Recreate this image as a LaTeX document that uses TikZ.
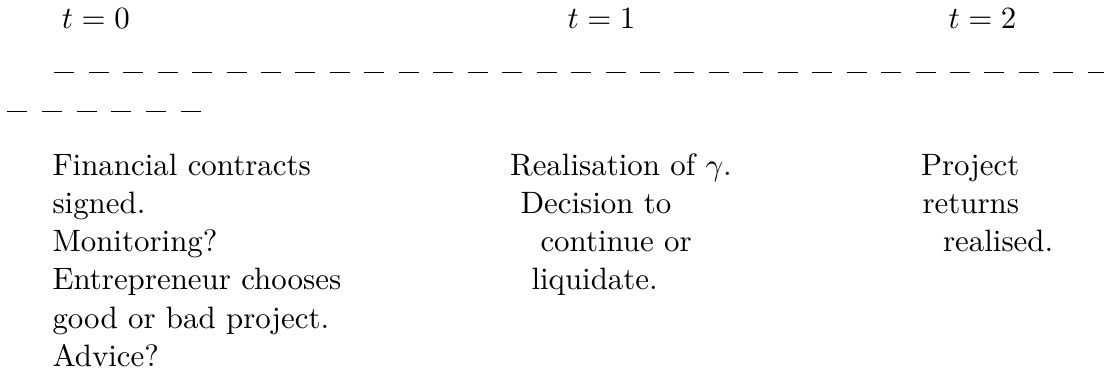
\documentclass[tikz,border=0pt,10pt]{standalone}
\begin{document}
\begin{tikzpicture}[x=0.3235pt,y=-0.3235pt,
  txt/.style={anchor=base west,inner sep=0pt,outer sep=0pt,font=\normalsize},
  dashbar/.style={line width=0.4pt}]
\useasboundingbox (0,0) rectangle (1104,374);
% time labels
\node[txt] (t0) at (62,28) {$t=0$};
\node[txt] (t1) at (567.5,28) {$t=1$};
\node[txt] (t2) at (948.5,28) {$t=2$};
% dashed time line
\foreach \k in {0,...,30}{
  \draw[dashbar] ({54.3+34.45*\k},72.7) -- ++(20,0);
}
\foreach \k in {0,...,5}{
  \draw[dashbar] ({7.3+34.7*\k},111.7) -- ++(20,0);
}
% column 1
\node[txt] (a1) at (52.5,175) {Financial contracts};
\node[txt] (a2) at (52.5,213.3) {signed.};
\node[txt] (a3) at (52.5,251.6) {Monitoring?};
\node[txt] (a4) at (52.5,289.9) {Entrepreneur chooses};
\node[txt] (a5) at (52.5,328.2) {good or bad project.};
\node[txt] (a6) at (52.5,366.5) {Advice?};
% column 2
\node[txt] (b1) at (510,175) {Realisation of $\gamma$.};
\node[txt] (b2) at (520.5,213.3) {Decision to};
\node[txt] (b3) at (540.5,251.6) {continue or};
\node[txt] (b4) at (531.5,289.9) {liquidate.};
% column 3
\node[txt] (c1) at (921,175) {Project};
\node[txt] (c2) at (922.5,213.3) {returns};
\node[txt] (c3) at (943,251.6) {realised.};
\end{tikzpicture}
\end{document}
